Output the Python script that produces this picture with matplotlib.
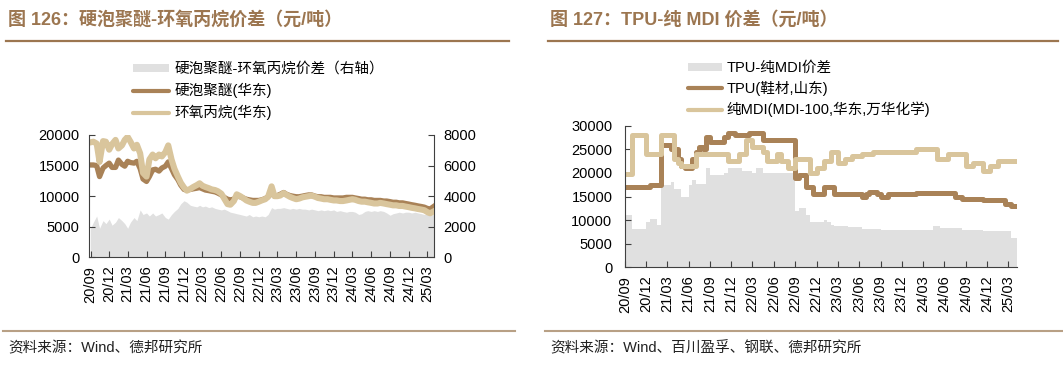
import pandas as pd
import matplotlib
matplotlib.use("Agg")
import matplotlib.pyplot as plt
from matplotlib.lines import Line2D
from matplotlib.patches import Patch

plt.rcParams['font.family'] = ['Liberation Sans', 'Noto Sans CJK SC']

W, H = 1063, 367
BROWN = '#a98257'
TAN = '#d9c59c'
GREY = '#e0e0e0'
TITLE_C = '#9c7650'
SPINE_C = '#404040'

# ---- fig 126: semi-monthly values from 2020-09 ----
ppe_price = [15100, 15100, 15000, 13200, 14600, 15000, 15400, 14700,
             14700, 15900, 15200, 14900, 15700, 15500, 15400, 15700,
             14500, 12800, 12400, 13200, 14300, 14400, 14100, 14600,
             14900, 15600, 14500, 13500, 12700, 11800, 11100, 11000,
             11100, 11200, 11300, 11400, 11200, 11000, 10900, 10800,
             10700, 10500, 10200, 9800, 9500, 9400, 9500, 10000,
             9900, 9700, 9500, 9400, 9300, 9300, 9300, 9400,
             9600, 9900, 10500, 10000, 10100, 10300, 10600, 10300,
             10100, 10000, 9900, 9900, 10000, 10100, 10200, 10200,
             10000, 9900, 9900, 9800, 9800, 9800, 9700, 9700,
             9700, 9700, 9800, 9800, 9800, 9700, 9600, 9500,
             9500, 9400, 9400, 9300, 9300, 9300, 9200, 9200,
             9100, 9000, 9000, 8900, 8900, 8800, 8700, 8600,
             8500, 8400, 8300, 8200, 8000, 7900, 8300]
po_price = [18800, 18900, 18600, 15600, 19000, 18900, 17600, 18500,
            19200, 17800, 18300, 19200, 19700, 18900, 17800, 18400,
            17000, 13800, 13200, 16000, 16800, 16200, 16800, 16500,
            17200, 18300, 16000, 14500, 13200, 12200, 11400, 10900,
            11200, 11500, 11800, 12100, 11700, 11500, 11300, 11100,
            11000, 10800, 10400, 9600, 8700, 8600, 9200, 10300,
            10000, 9700, 9300, 9100, 8900, 8900, 9100, 9300,
            9500, 9900, 11600, 10000, 10000, 10100, 10500, 10200,
            9900, 9700, 9500, 9600, 9800, 9900, 10000, 10100,
            9900, 9700, 9600, 9500, 9500, 9400, 9300, 9300,
            9200, 9200, 9300, 9400, 9500, 9400, 9200, 9100,
            9100, 9000, 8900, 8800, 8800, 8900, 8800, 8700,
            8600, 8500, 8500, 8400, 8400, 8300, 8200, 8100,
            8000, 7900, 7800, 7700, 7400, 7200, 7500]
ppe_po_spread = [1900, 2300, 2700, 1900, 2400, 2200, 2500, 2100,
                 2300, 2600, 2400, 2200, 1900, 2300, 2600, 2400,
                 3100, 2800, 2900, 2700, 2900, 2700, 2800, 2900,
                 2600, 2500, 2800, 3000, 3200, 3500, 3700, 3600,
                 3400, 3350, 3300, 3400, 3300, 3350, 3250, 3300,
                 3200, 3150, 3100, 3150, 3050, 2950, 2900, 2850,
                 2800, 2750, 2700, 2800, 2650, 2700, 2650, 2700,
                 2650, 2800, 3250, 3150, 3200, 3200, 3250, 3200,
                 3150, 3200, 3150, 3200, 3150, 3150, 3100, 3150,
                 3100, 3050, 3100, 3050, 3100, 3050, 3100, 3000,
                 3050, 3000, 2950, 3000, 3000, 2950, 2800, 2850,
                 3000, 3050, 3000, 3050, 3000, 3050, 3000, 2900,
                 2750, 2850, 2900, 2950, 2900, 2950, 2950, 2900,
                 2950, 2900, 2850, 2800, 2800, 2750, 2800]

# ---- fig 127: semi-monthly values from 2020-09 ----
tpu_price = [17000, 17000, 17000, 17000, 17000, 17000, 17000, 17500,
             17500, 17500, 26000, 26000, 26000, 25000, 25000, 23000,
             21500, 21000, 21000, 23000, 24500, 25500, 25000, 27500,
             26500, 26500, 26500, 26500, 27500, 28500, 28500, 28000,
             28000, 28000, 28000, 28500, 28500, 28500, 28500, 27000,
             27000, 27000, 27000, 27000, 27000, 27000, 27000, 27000,
             19000, 19500, 19500, 17000, 17000, 15500, 15500, 15500,
             17000, 17000, 17000, 15500, 15500, 15500, 15500, 15500,
             15500, 15500, 15500, 15000, 15500, 16000, 16000, 15500,
             15000, 15000, 15500, 15500, 15500, 15500, 15500, 15500,
             15500, 15500, 15700, 15700, 15700, 15700, 15700, 15700,
             15700, 15700, 15700, 15700, 15700, 15000, 15000, 14500,
             14500, 14500, 14500, 14500, 14500, 14300, 14300, 14300,
             14300, 14300, 14300, 13500, 13500, 13000, 13000]
mdi_price = [19800, 19800, 28000, 28000, 28000, 28000, 24000, 24000,
             24000, 24000, 28000, 28000, 28000, 28000, 23000, 22000,
             21500, 21500, 21500, 21500, 24000, 24000, 24000, 24000,
             24000, 24000, 24000, 24000, 24000, 22500, 22500, 22500,
             24000, 24000, 27000, 27000, 25500, 25500, 25500, 24500,
             22500, 22500, 22500, 24000, 22500, 22500, 21000, 21000,
             23000, 23000, 23000, 23000, 20000, 20000, 21000, 21000,
             22500, 22500, 24500, 24500, 22000, 22000, 23000, 23000,
             23500, 23500, 23500, 24000, 24000, 24000, 24500, 24500,
             24500, 24500, 24500, 24500, 24500, 24500, 24500, 24500,
             24500, 24500, 25000, 25000, 25000, 25000, 25000, 25000,
             23000, 23000, 23000, 24000, 24000, 24000, 24000, 24000,
             21500, 21500, 22000, 22000, 22000, 20500, 20500, 21500,
             21500, 22500, 22500, 22500, 22500, 22500, 22500]
tpu_mdi_spread = [11000, 11000, 8200, 8200, 8200, 8200, 9700, 10300,
                  10300, 9000, 17500, 17500, 17500, 18000, 16500, 16500,
                  15000, 15000, 17500, 18500, 17700, 17700, 17700, 21000,
                  19500, 19500, 19500, 19500, 20000, 21000, 21000, 21000,
                  21000, 20500, 20500, 20500, 20000, 21000, 21000, 20000,
                  20000, 20000, 20000, 20000, 20000, 20000, 20000, 20000,
                  12000, 12500, 12500, 11000, 9500, 9500, 9500, 9500,
                  10000, 9500, 9000, 8800, 8800, 8800, 8800, 8500,
                  8500, 8500, 8500, 8200, 8200, 8200, 8200, 8200,
                  7800, 7800, 7800, 7800, 7800, 7800, 7800, 7800,
                  7800, 7800, 7800, 7800, 7800, 7800, 7800, 8700,
                  8700, 8300, 8300, 8300, 8300, 8300, 8300, 7800,
                  7800, 7800, 7800, 7800, 8000, 7600, 7600, 7600,
                  7600, 7600, 7600, 7600, 7600, 6200, 6200]

left_dates = pd.date_range('2020-09-01', periods=len(ppe_price), freq='SMS')
right_dates = pd.date_range('2020-09-01', periods=len(tpu_price), freq='SMS')
tick_dates = pd.date_range('2020-09-01', '2025-03-01', freq='3MS')
tick_labels = [d.strftime('%y/%m') for d in tick_dates]

fig = plt.figure(figsize=(W / 100, H / 100), dpi=100)


def header(x0, x1, title, source):
    fig.text(x0 / W + 2 / W, 1 - 20 / H, title, color=TITLE_C, fontsize=13,
             fontweight='bold', va='center', ha='left')
    fig.add_artist(Line2D([x0 / W, x1 / W], [1 - 41 / H] * 2, color=TITLE_C, lw=1.6))
    fig.add_artist(Line2D([x0 / W - 3 / W, x1 / W + 6 / W], [1 - 331 / H] * 2,
                          color='#b8a085', lw=1.5))
    fig.text(x0 / W + 2 / W, 1 - 348 / H, source, color='#222222', fontsize=10.5,
             va='center', ha='left')


def style_xaxis(ax, start, end):
    ax.set_xlim(pd.Timestamp(start), pd.Timestamp(end))
    ax.set_xticks(tick_dates)
    ax.set_xticklabels(tick_labels, rotation=90, fontsize=10.5)
    ax.tick_params(axis='x', direction='in', length=4, width=0.8, color=SPINE_C, pad=6)


header(6, 509, '图 126：硬泡聚醚-环氧丙烷价差（元/吨）', '资料来源：Wind、德邦研究所')
header(548, 1058, '图 127：TPU-纯 MDI 价差（元/吨）', '资料来源：Wind、百川盈孚、钢联、德邦研究所')

# ---- left chart ----
ax = fig.add_axes([89.3 / W, 1 - 257.3 / H, (434 - 89.3) / W, (257.3 - 135) / H])
ax2 = ax.twinx()
ax2.fill_between(left_dates, 0, ppe_po_spread, color=GREY, lw=0)
ax.plot(left_dates, ppe_price, color=BROWN, lw=3.8, solid_joinstyle='round')
ax.plot(left_dates, po_price, color=TAN, lw=4.4, solid_joinstyle='round')
ax.set_zorder(ax2.get_zorder() + 1)
ax.patch.set_visible(False)

ax.set_ylim(0, 20000)
ax.set_yticks(range(0, 20001, 5000))
ax2.set_ylim(0, 8000)
ax2.set_yticks(range(0, 8001, 2000))
style_xaxis(ax, '2020-08-26', '2025-04-03')
for a in (ax, ax2):
    a.tick_params(axis='y', direction='in', length=4, width=0.8, color=SPINE_C,
                  labelsize=10.5, pad=7)
    for s in a.spines.values():
        s.set_visible(False)
for s in ('left', 'bottom'):
    ax.spines[s].set_visible(True)
    ax.spines[s].set_color(SPINE_C)
ax2.spines['right'].set_visible(True)
ax2.spines['right'].set_color(SPINE_C)

fig.legend([Patch(facecolor=GREY, edgecolor='none'),
            Line2D([], [], color=BROWN, lw=3, solid_capstyle='round'),
            Line2D([], [], color=TAN, lw=3, solid_capstyle='round')],
           ['硬泡聚醚-环氧丙烷价差（右轴）', '硬泡聚醚(华东)', '环氧丙烷(华东)'],
           loc='upper left', bbox_to_anchor=(133 / W, 1 - 62 / H), frameon=False,
           fontsize=10.5, handlelength=2.5, handleheight=0.5, handletextpad=0.35,
           labelspacing=0.48, borderpad=0, borderaxespad=0)

# ---- right chart ----
bx = fig.add_axes([625 / W, 1 - 267.3 / H, (1017 - 625) / W, (267.3 - 125.7) / H])
end_r = pd.Timestamp('2025-04-08')
edges = list(right_dates) + [end_r]
bx.fill_between(edges, 0, list(tpu_mdi_spread) + [tpu_mdi_spread[-1]],
                step='post', color=GREY, lw=0)
bx.step(edges, list(tpu_price) + [tpu_price[-1]], where='post', color=BROWN, lw=3.6,
        solid_joinstyle='round', solid_capstyle='round')
bx.step(edges, list(mdi_price) + [mdi_price[-1]], where='post', color=TAN, lw=3.6,
        solid_joinstyle='round', solid_capstyle='round')
bx.set_ylim(0, 30000)
bx.set_yticks(range(0, 30001, 5000))
style_xaxis(bx, '2020-09-01', end_r)
bx.tick_params(axis='y', direction='in', length=4, width=0.8, color=SPINE_C,
               labelsize=10.5, pad=9)
for s in ('top', 'right'):
    bx.spines[s].set_visible(False)
for s in ('left', 'bottom'):
    bx.spines[s].set_color(SPINE_C)

fig.legend([Patch(facecolor=GREY, edgecolor='none'),
            Line2D([], [], color=BROWN, lw=3, solid_capstyle='round'),
            Line2D([], [], color=TAN, lw=3, solid_capstyle='round')],
           ['TPU-纯MDI价差', 'TPU(鞋材,山东)', '纯MDI(MDI-100,华东,万华化学)'],
           loc='upper left', bbox_to_anchor=(688 / W, 1 - 61 / H), frameon=False,
           fontsize=10.5, handlelength=2.35, handleheight=0.5, handletextpad=0.3,
           labelspacing=0.4, borderpad=0, borderaxespad=0)

fig.savefig('out.png', dpi=100)
